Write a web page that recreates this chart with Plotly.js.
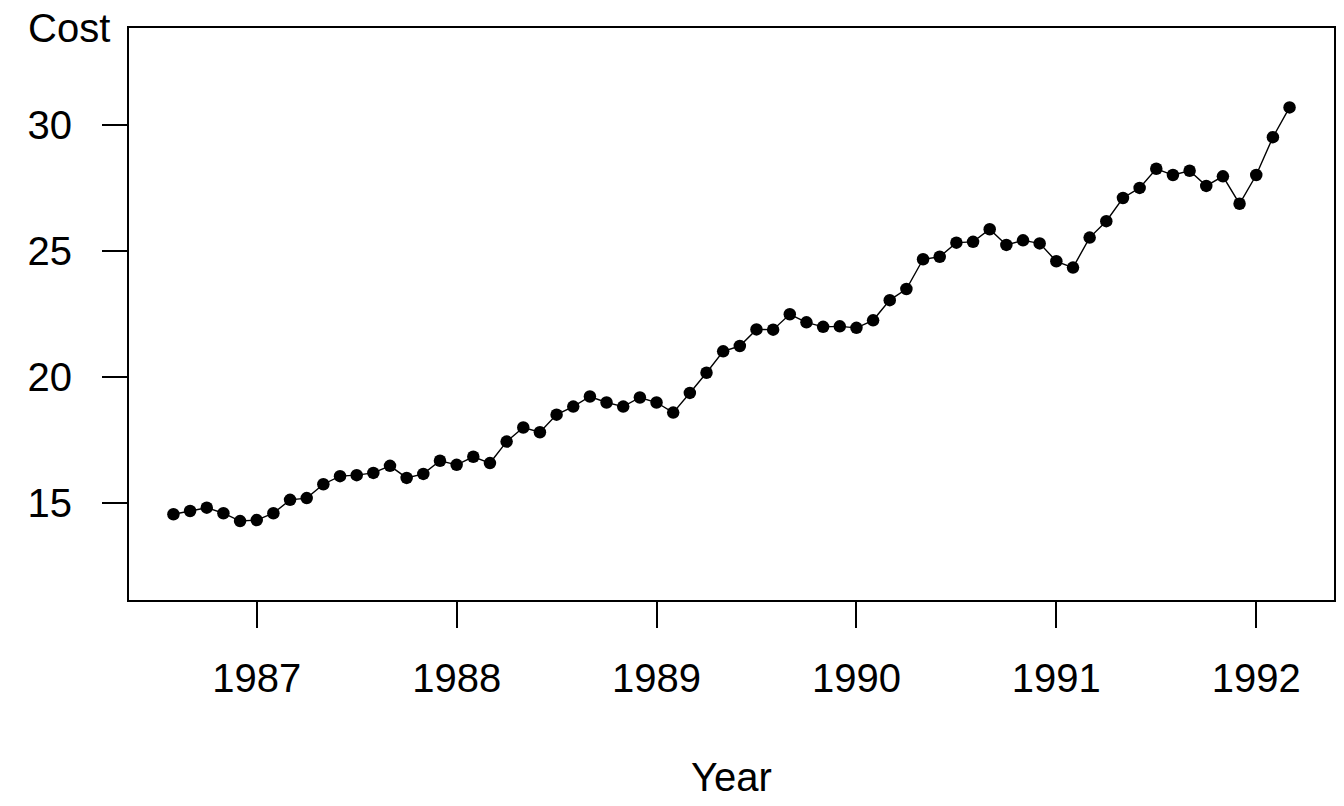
<!DOCTYPE html>
<html>
<head>
<meta charset="utf-8">
<script src="https://cdn.plot.ly/plotly-3.0.1.min.js"></script>
<style>html,body{margin:0;padding:0;background:#fff;}#chart{width:1344px;height:806px;}</style>
</head>
<body>
<div id="chart"></div>
<script>
// Monthly observations, Aug 1986 .. Mar 1992
var startYear = 1986;
var startMonth = 8;
var costValues = [
  14.56, 14.69, 14.82, 14.60, 14.29, 14.33, 14.60, 15.13, 15.20, 15.75,
  16.07, 16.11, 16.20, 16.48, 16.00, 16.16, 16.68, 16.52, 16.84, 16.59,
  17.44, 18.00, 17.81, 18.51, 18.83, 19.23, 18.99, 18.83, 19.19, 18.99,
  18.59, 19.37, 20.17, 21.02, 21.23, 21.89, 21.88, 22.49, 22.17, 21.99,
  22.01, 21.95, 22.25, 23.05, 23.49, 24.67, 24.77, 25.33, 25.36, 25.86,
  25.24, 25.42, 25.30, 24.59, 24.34, 25.53, 26.18, 27.10, 27.50, 28.26,
  28.01, 28.18, 27.58, 27.96, 26.87, 28.01, 29.51, 30.69
];
var xTickValues = [1987, 1988, 1989, 1990, 1991, 1992];
var yTickValues = [15, 20, 25, 30];
var xLabel = "Year";
var yLabel = "Cost";

// time as decimal year (monthly frequency)
var timeValues = costValues.map(function (v, i) {
  return startYear + (startMonth - 1 + i) / 12;
});

var fontFamily = "Liberation Sans, Arial, sans-serif";

var trace = {
  x: timeValues,
  y: costValues,
  type: "scatter",
  mode: "lines+markers",
  line: {color: "#000000", width: 1.4},
  marker: {color: "#000000", size: 12.5},
  hoverinfo: "x+y"
};

var layout = {
  width: 1344,
  height: 806,
  margin: {l: 129, r: 10, t: 28, b: 206},
  paper_bgcolor: "#ffffff",
  plot_bgcolor: "#ffffff",
  showlegend: false,
  font: {family: fontFamily, size: 40, color: "#000000"},
  xaxis: {
    range: [1986.361, 1992.389],
    tickmode: "array",
    tickvals: xTickValues,
    ticktext: xTickValues.map(String),
    ticks: "outside",
    ticklen: 26,
    tickwidth: 2,
    tickcolor: "#000000",
    ticklabelstandoff: 16,
    showline: true,
    linewidth: 2,
    linecolor: "#000000",
    mirror: true,
    showgrid: false,
    zeroline: false,
    tickfont: {family: fontFamily, size: 40, color: "#000000"},
    title: {text: xLabel, font: {family: fontFamily, size: 40, color: "#000000"}, standoff: 64}
  },
  yaxis: {
    range: [11.16, 33.84],
    tickmode: "array",
    tickvals: yTickValues,
    ticktext: yTickValues.map(String),
    ticks: "outside",
    ticklen: 25,
    tickwidth: 2,
    tickcolor: "#000000",
    ticklabelstandoff: 22,
    showline: true,
    linewidth: 2,
    linecolor: "#000000",
    mirror: true,
    showgrid: false,
    zeroline: false,
    tickfont: {family: fontFamily, size: 40, color: "#000000"}
  },
  annotations: [{
    text: yLabel,
    xref: "paper", yref: "paper",
    x: -0.0498, y: 1.0,
    xanchor: "center", yanchor: "middle",
    showarrow: false,
    font: {family: fontFamily, size: 40, color: "#000000"}
  }]
};

Plotly.newPlot("chart", [trace], layout, {displayModeBar: false, staticPlot: false});
</script>
</body>
</html>
